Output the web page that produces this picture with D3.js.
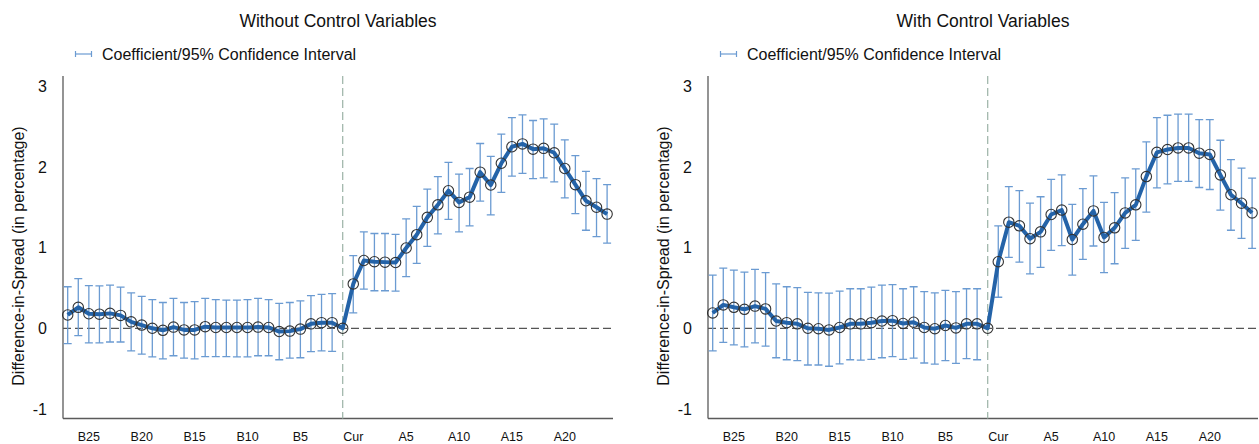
<!DOCTYPE html>
<html>
<head>
<meta charset="utf-8">
<script src="https://cdn.jsdelivr.net/npm/d3@7"></script>
<style>
  html, body { margin: 0; padding: 0; background: #fff; }
  svg { display: block; font-family: "Liberation Sans", Arial, sans-serif; }
</style>
</head>
<body>
<svg id="chart" width="1259" height="444"></svg>
<script>
// Event periods: 26 periods before, the current period, 25 periods after
const periods = [
  "B26","B25","B24","B23","B22","B21","B20","B19","B18","B17","B16","B15","B14",
  "B13","B12","B11","B10","B9","B8","B7","B6","B5","B4","B3","B2","B1",
  "Cur",
  "A1","A2","A3","A4","A5","A6","A7","A8","A9","A10","A11","A12","A13",
  "A14","A15","A16","A17","A18","A19","A20","A21","A22","A23","A24","A25"
];

const tickLabels = ["B25","B20","B15","B10","B5","Cur","A5","A10","A15","A20"];
const yTicks = [-1, 0, 1, 2, 3];

// Without control variables
const coefNoCtrl = [
  0.165, 0.26, 0.18, 0.175, 0.185, 0.16, 0.08, 0.04, 0.00, -0.025, 0.015, -0.02, -0.02,
  0.02, 0.01, 0.01, 0.01, 0.01, 0.015, 0.01, -0.04, -0.035, -0.01, 0.055, 0.07, 0.07,
  0,
  0.55, 0.84, 0.825, 0.82, 0.815, 0.995, 1.16, 1.375, 1.53, 1.705, 1.56, 1.625, 1.935,
  1.775, 2.045, 2.25, 2.285, 2.22, 2.23, 2.175, 1.98, 1.78, 1.58, 1.50, 1.415
];
const lowNoCtrl = [
  -0.19, -0.09, -0.18, -0.18, -0.17, -0.17, -0.28, -0.32, -0.355, -0.38, -0.34, -0.37, -0.38,
  -0.35, -0.35, -0.35, -0.355, -0.355, -0.34, -0.34, -0.39, -0.37, -0.365, -0.29, -0.28, -0.285,
  null,
  0.19, 0.485, 0.465, 0.465, 0.46, 0.64, 0.805, 1.015, 1.17, 1.35, 1.195, 1.27, 1.575,
  1.405, 1.685, 1.885, 1.92, 1.855, 1.865, 1.815, 1.615, 1.42, 1.215, 1.135, 1.055
];
const highNoCtrl = [
  0.515, 0.615, 0.53, 0.525, 0.535, 0.51, 0.44, 0.395, 0.355, 0.32, 0.37, 0.32, 0.33,
  0.37, 0.355, 0.35, 0.35, 0.355, 0.37, 0.355, 0.31, 0.32, 0.34, 0.405, 0.42, 0.43,
  null,
  0.90, 1.195, 1.175, 1.175, 1.165, 1.355, 1.51, 1.725, 1.88, 2.055, 1.91, 1.98, 2.29,
  2.13, 2.405, 2.61, 2.645, 2.575, 2.595, 2.53, 2.335, 2.14, 1.945, 1.855, 1.78
];

// With control variables
const coefCtrl = [
  0.19, 0.29, 0.26, 0.235, 0.275, 0.24, 0.09, 0.07, 0.055, 0.0, -0.005, -0.02, 0.01,
  0.055, 0.055, 0.07, 0.09, 0.095, 0.06, 0.075, 0.01, -0.005, 0.035, 0.005, 0.055, 0.055,
  0,
  0.825, 1.315, 1.27, 1.11, 1.195, 1.41, 1.465, 1.10, 1.29, 1.455, 1.125, 1.245, 1.43,
  1.53, 1.88, 2.18, 2.215, 2.235, 2.235, 2.17, 2.155, 1.90, 1.655, 1.55, 1.43
];
const lowCtrl = [
  -0.28, -0.175, -0.205, -0.23, -0.18, -0.22, -0.365, -0.39, -0.40, -0.455, -0.455, -0.47, -0.44,
  -0.39, -0.395, -0.385, -0.365, -0.35, -0.385, -0.37, -0.43, -0.445, -0.40, -0.435, -0.375, -0.39,
  null,
  0.385, 0.88, 0.82, 0.675, 0.755, 0.965, 1.025, 0.66, 0.855, 1.02, 0.69, 0.80, 0.99,
  1.09, 1.44, 1.74, 1.79, 1.82, 1.82, 1.745, 1.72, 1.465, 1.215, 1.115, 0.99
];
const highCtrl = [
  0.66, 0.745, 0.72, 0.695, 0.73, 0.69, 0.55, 0.515, 0.505, 0.445, 0.44, 0.435, 0.46,
  0.49, 0.49, 0.51, 0.535, 0.54, 0.49, 0.515, 0.455, 0.44, 0.47, 0.455, 0.49, 0.49,
  null,
  1.27, 1.755, 1.705, 1.55, 1.63, 1.845, 1.90, 1.535, 1.73, 1.89, 1.56, 1.68, 1.865,
  1.975, 2.31, 2.61, 2.64, 2.655, 2.655, 2.585, 2.585, 2.33, 2.09, 1.985, 1.86
];

const panels = [
  { title: "Without Control Variables", coef: coefNoCtrl, low: lowNoCtrl, high: highNoCtrl, dx: 0 },
  { title: "With Control Variables",    coef: coefCtrl,   low: lowCtrl,   high: highCtrl,   dx: 645 }
];

const svg = d3.select("#chart");
const lineColor = "#2463a8";
const ciColor = "#6b9bd2";

// plot frame (shared by both panels, shifted horizontally)
const frame = { left: 63, right: 613, top: 76, bottom: 418.5 };
const curIndex = periods.indexOf("Cur");

const x = d3.scaleLinear().domain([0, periods.length - 1]).range([67.7, 607.1]);
const y = d3.scaleLinear().domain([-1, 3]).range([409, 86.2]);

panels.forEach(p => {
  const g = svg.append("g").attr("transform", `translate(${p.dx},0)`);
  const rows = periods.map((k, i) => ({ k, i, c: p.coef[i], lo: p.low[i], hi: p.high[i] }));

  // title
  g.append("text")
    .attr("x", (frame.left + frame.right) / 2).attr("y", 27)
    .attr("text-anchor", "middle").attr("font-size", 17.5).attr("fill", "#111")
    .text(p.title);

  // legend
  const lg = g.append("g").attr("stroke", ciColor).attr("stroke-width", 1.2);
  lg.append("line").attr("x1", 75).attr("x2", 92).attr("y1", 54).attr("y2", 54);
  lg.append("line").attr("x1", 75.5).attr("x2", 75.5).attr("y1", 51).attr("y2", 57);
  lg.append("line").attr("x1", 91.5).attr("x2", 91.5).attr("y1", 51).attr("y2", 57);
  g.append("text")
    .attr("x", 102).attr("y", 60).attr("font-size", 16).attr("fill", "#111")
    .text("Coefficient/95% Confidence Interval");

  // y axis title
  g.append("text")
    .attr("transform", `translate(24,256) rotate(-90)`)
    .attr("text-anchor", "middle").attr("font-size", 16).attr("fill", "#111")
    .text("Difference-in-Spread (in percentage)");

  // y tick labels
  g.append("g").selectAll("text").data(yTicks).join("text")
    .attr("x", 47).attr("y", d => y(d)).attr("dy", "0.35em")
    .attr("text-anchor", "end").attr("font-size", 16).attr("fill", "#111")
    .text(d => d);

  // x tick labels: each label sits one period to the right of its event date
  g.append("g").selectAll("text").data(tickLabels).join("text")
    .attr("x", d => x(periods.indexOf(d) + 1)).attr("y", 441)
    .attr("text-anchor", "middle").attr("font-size", 12.5).attr("fill", "#111")
    .text(d => d);

  // axes lines
  g.append("line").attr("x1", frame.left).attr("x2", frame.left)
    .attr("y1", frame.top).attr("y2", frame.bottom)
    .attr("stroke", "#5a5a5a").attr("stroke-width", 1.3);
  g.append("line").attr("x1", frame.left).attr("x2", frame.right)
    .attr("y1", frame.bottom).attr("y2", frame.bottom)
    .attr("stroke", "#5a5a5a").attr("stroke-width", 1.3);

  // reference lines
  g.append("line").attr("x1", x(curIndex)).attr("x2", x(curIndex))
    .attr("y1", frame.top).attr("y2", frame.bottom)
    .attr("stroke", "#a3b8ad").attr("stroke-width", 1.3).attr("stroke-dasharray", "8,4");
  g.append("line").attr("x1", frame.left).attr("x2", frame.right)
    .attr("y1", y(0)).attr("y2", y(0))
    .attr("stroke", "#555").attr("stroke-width", 1.2).attr("stroke-dasharray", "8,4");

  // confidence intervals
  const ci = g.append("g").attr("stroke", ciColor).attr("stroke-width", 1.3).attr("fill", "none");
  const withCI = rows.filter(r => r.lo != null && r.hi != null);
  ci.selectAll("path").data(withCI).join("path")
    .attr("d", r => {
      const cx = x(r.i), y1 = y(r.hi), y2 = y(r.lo), w = 4;
      return `M${cx},${y1}V${y2}M${cx - w},${y1}H${cx + w}M${cx - w},${y2}H${cx + w}`;
    });

  // coefficient line
  g.append("path").datum(rows)
    .attr("fill", "none").attr("stroke", lineColor).attr("stroke-width", 4)
    .attr("stroke-linejoin", "round")
    .attr("d", d3.line().x(r => x(r.i)).y(r => y(r.c)));

  // markers
  g.append("g").selectAll("circle").data(rows).join("circle")
    .attr("cx", r => x(r.i)).attr("cy", r => y(r.c)).attr("r", 5.2)
    .attr("fill", "none").attr("stroke", "#333").attr("stroke-width", 1.1);
});
</script>
</body>
</html>
